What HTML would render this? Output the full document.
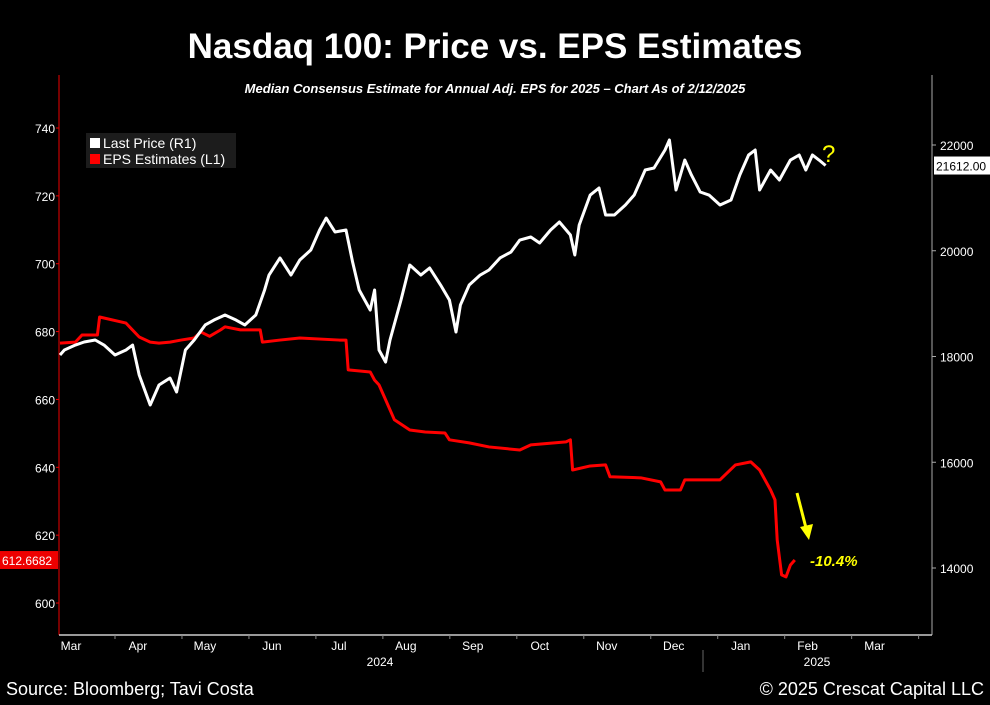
<!DOCTYPE html>
<html><head><meta charset="utf-8"><style>
body{margin:0;background:#000;width:990px;height:700px;overflow:hidden;font-family:"Liberation Sans",sans-serif}
svg text{font-family:"Liberation Sans",sans-serif}
</style></head><body>
<svg id="c" width="990" height="700" xmlns="http://www.w3.org/2000/svg">
<text x="495" y="58" fill="#fff" font-size="35" font-weight="bold" text-anchor="middle">Nasdaq 100: Price vs. EPS Estimates</text>
<text x="495" y="93" fill="#fff" font-size="13" font-weight="bold" font-style="italic" text-anchor="middle">Median Consensus Estimate for Annual Adj. EPS for 2025 – Chart As of 2/12/2025</text>
<line x1="59" y1="75" x2="59" y2="635" stroke="#e00" stroke-width="1"/>
<line x1="932" y1="75" x2="932" y2="635" stroke="#aaa" stroke-width="1"/>
<line x1="59" y1="635" x2="932" y2="635" stroke="#ccc" stroke-width="1.5"/>
<g id="axes"></g>
<g id="series"></g>
<rect x="86" y="133" width="150" height="35" fill="#1c1c1c"/>
<rect x="90" y="138" width="10" height="10" fill="#fff"/>
<text x="103" y="148" fill="#fff" font-size="14">Last Price (R1)</text>
<rect x="90" y="154" width="10" height="10" fill="#f00"/>
<text x="103" y="164" fill="#fff" font-size="14">EPS Estimates (L1)</text>
<text x="822" y="162" fill="#ff0" font-size="24">?</text>
<line x1="797" y1="493" x2="806" y2="528" stroke="#ff0" stroke-width="3"/>
<polygon points="800,527 813,524 809,540" fill="#ff0"/>
<text x="810" y="566" fill="#ff0" font-size="15" font-weight="bold" font-style="italic">-10.4%</text>
<text x="380" y="666" fill="#fff" font-size="12" text-anchor="middle">2024</text>
<text x="817" y="666" fill="#fff" font-size="12" text-anchor="middle">2025</text>
<line x1="703" y1="650" x2="703" y2="672" stroke="#666"/>
<text x="6" y="695" fill="#fff" font-size="18">Source: Bloomberg; Tavi Costa</text>
<text x="984" y="695" fill="#fff" font-size="18" text-anchor="end">© 2025 Crescat Capital LLC</text>
</svg>
<script>
const months=["Mar","Apr","May","Jun","Jul","Aug","Sep","Oct","Nov","Dec","Jan","Feb","Mar"];
const leftTicks=[600,620,640,660,680,700,720,740];
const rightTicks=[14000,16000,18000,20000,22000];
const priceDays=[0,2,7,11,16,20,25,30,33,36,41,45,50,53,57,61,66,70,75,80,84,89,93,95,100,105,109,114,118,121,125,130,133,136,141,143,145,148,150,155,159,164,168,173,177,180,182,186,191,195,200,205,209,214,218,223,227,232,234,236,241,245,248,252,257,261,266,270,275,277,280,284,287,291,295,300,305,309,313,316,318,323,327,332,336,339,342,345,348];
const priceVals=[18028,18123,18217,18274,18312,18217,18028,18123,18217,17650,17083,17461,17593,17329,18123,18312,18596,18690,18785,18690,18596,18785,19258,19541,19863,19541,19825,20014,20392,20619,20355,20392,19787,19258,18879,19258,18123,17896,18312,19069,19730,19541,19674,19352,19069,18463,18974,19352,19541,19636,19863,19976,20203,20260,20147,20392,20544,20298,19920,20487,21054,21187,20676,20676,20865,21054,21527,21565,21905,22095,21149,21716,21433,21111,21054,20865,20960,21433,21811,21905,21149,21527,21338,21716,21811,21527,21811,21716,21612];
const epsDays=[0,7,10,17,18,30,36,41,45,50,55,61,64,68,73,75,82,91,92,100,109,127,130,131,141,143,145,148,152,159,166,175,177,186,195,209,214,230,232,233,241,248,250,264,273,275,282,284,300,307,314,318,323,325,326,328,330,332,334];
const epsVals=[676.6,676.9,679.0,679.0,684.3,682.5,678.4,676.9,676.6,676.9,677.5,678.1,679.9,678.6,680.5,681.4,680.5,680.5,676.9,677.5,678.1,677.5,677.5,668.7,668.1,665.7,664.3,659.9,654.0,651.0,650.4,650.1,648.1,647.2,646.0,645.1,646.6,647.5,648.1,639.2,640.4,640.7,637.2,636.9,635.7,633.3,633.3,636.3,636.3,640.7,641.6,639.2,633.3,630.4,618.6,608.3,607.7,611.2,612.6682];
const lastPrice="21612.00", lastEps="612.6682";
const X=d=>60+d*2.2;
const YL=v=>128+(740-v)/20*67.86;
const YR=v=>145+(22000-v)/2000*105.75;
const NS="http://www.w3.org/2000/svg";
const ax=document.getElementById('axes'), se=document.getElementById('series');
function mk(t,a,p){const e=document.createElementNS(NS,t);for(const k in a)e.setAttribute(k,a[k]);p.appendChild(e);return e;}
leftTicks.forEach(v=>{const t=mk('text',{x:55,y:YL(v)+5,fill:'#fff','font-size':12,'text-anchor':'end'},ax);t.textContent=v;


const l=mk('line',{x1:56,x2:59,y1:YL(v),y2:YL(v),stroke:'#e00'},ax);

});
rightTicks.forEach(v=>{const t=mk('text',{x:940,y:YR(v)+5,fill:'#fff','font-size':12},ax);t.textContent=v;


const l=mk('line',{x1:932,x2:936,y1:YR(v),y2:YR(v),stroke:'#aaa'},ax);

});
months.forEach((m,i)=>{const d=5+i*30.44;const t=mk('text',{x:X(d),y:650,fill:'#fff','font-size':12,'text-anchor':'middle'},ax);t.textContent=m;


const l=mk('line',{x1:X(d+20),x2:X(d+20),y1:635,y2:639,stroke:'#888'},ax);

});
const ep=mk('polyline',{points:epsDays.map((d,i)=>X(d)+','+YL(epsVals[i])).join(' '),fill:'none',stroke:'#f00','stroke-width':3,'stroke-linejoin':'round'},se);


const pp=mk('polyline',{points:priceDays.map((d,i)=>X(d)+','+YR(priceVals[i])).join(' '),fill:'none',stroke:'#fff','stroke-width':3,'stroke-linejoin':'round'},se);


const ly=YL(epsVals[epsVals.length-1]);
const lb=mk('rect',{x:0,y:ly-9,width:58,height:18,fill:'#e00'},se);


const lt=mk('text',{x:2,y:ly+5,fill:'#fff','font-size':12},se);lt.textContent=lastEps;


const ry=YR(priceVals[priceVals.length-1]);
const rb=mk('rect',{x:934,y:ry-9,width:56,height:18,fill:'#fff'},se);


const rt=mk('text',{x:936,y:ry+5,fill:'#000','font-size':12},se);rt.textContent=lastPrice;


</script>
</body></html>
